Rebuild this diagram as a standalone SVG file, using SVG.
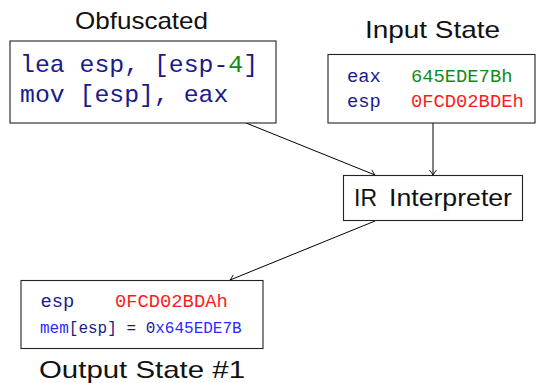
<svg xmlns="http://www.w3.org/2000/svg" width="536" height="383" viewBox="0 0 536 383">
<defs>
<marker id="arr" viewBox="-6 -5 8 10" markerWidth="8" markerHeight="10" refX="0" refY="0" orient="auto" markerUnits="userSpaceOnUse">
<path d="M-5,-3.5 Q-1.5,-0.8 0,0 Q-1.5,0.8 -5,3.5" fill="none" stroke="#000" stroke-width="0.9"/>
</marker>
</defs>
<style>
.box{fill:#fff;stroke:#222;stroke-width:1.1}
.title{font-family:"Liberation Sans",Arial,sans-serif;font-size:24px;fill:#111}
.mono{font-family:"Liberation Mono","Courier New",monospace}
.navy{fill:#1a1a8c}
.green{fill:#158a15}
.red{fill:#ff1a1a}
.blue{fill:#2a2aff}
.conn{stroke:#000;stroke-width:1;fill:none;marker-end:url(#arr)}
</style>
<rect width="536" height="383" fill="#fff"/>
<g id="connectors">
<line class="conn" x1="246" y1="123" x2="375" y2="175"/>
<line class="conn" x1="433" y1="123" x2="433" y2="175"/>
<line class="conn" x1="375" y1="221" x2="230" y2="280"/>
</g>
<g id="obfuscated">
<text class="title" x="75" y="29" textLength="133" lengthAdjust="spacingAndGlyphs">Obfuscated</text>
<rect class="box" x="10" y="41" width="266" height="82"/>
<text class="mono navy" x="20" y="72" font-size="24.8">lea esp, [esp-<tspan class="green">4</tspan>]</text>
<text class="mono navy" x="20" y="102" font-size="24.8">mov [esp], eax</text>
</g>
<g id="input-state">
<text class="title" x="365" y="38" textLength="135" lengthAdjust="spacingAndGlyphs">Input State</text>
<rect class="box" x="328" y="54.5" width="207" height="68.5"/>
<text class="mono" x="347" y="81.5" font-size="18.8"><tspan class="navy">eax</tspan><tspan class="green" x="411">645EDE7Bh</tspan></text>
<text class="mono" x="347" y="107" font-size="18.8"><tspan class="navy">esp</tspan><tspan class="red" x="411">0FCD02BDEh</tspan></text>
</g>
<g id="ir-interpreter">
<rect class="box" x="343.5" y="175.5" width="179" height="45"/>
<text class="title" x="354" y="205.5" font-size="21" textLength="23" lengthAdjust="spacingAndGlyphs">IR</text>
<text class="title" x="389" y="205.5" font-size="26" textLength="123" lengthAdjust="spacingAndGlyphs">Interpreter</text>
</g>
<g id="output-state">
<rect class="box" x="21" y="280.5" width="242" height="68"/>
<text class="mono" x="40.5" y="306.5" font-size="18.8"><tspan class="navy">esp</tspan><tspan class="red" x="115">0FCD02BDAh</tspan></text>
<text class="mono" x="40" y="333" font-size="16"><tspan class="blue">mem</tspan><tspan class="navy">[esp] = 0</tspan><tspan class="blue">x645EDE7B</tspan></text>
<text class="title" x="39" y="378" textLength="206" lengthAdjust="spacingAndGlyphs">Output State #1</text>
</g>
</svg>
